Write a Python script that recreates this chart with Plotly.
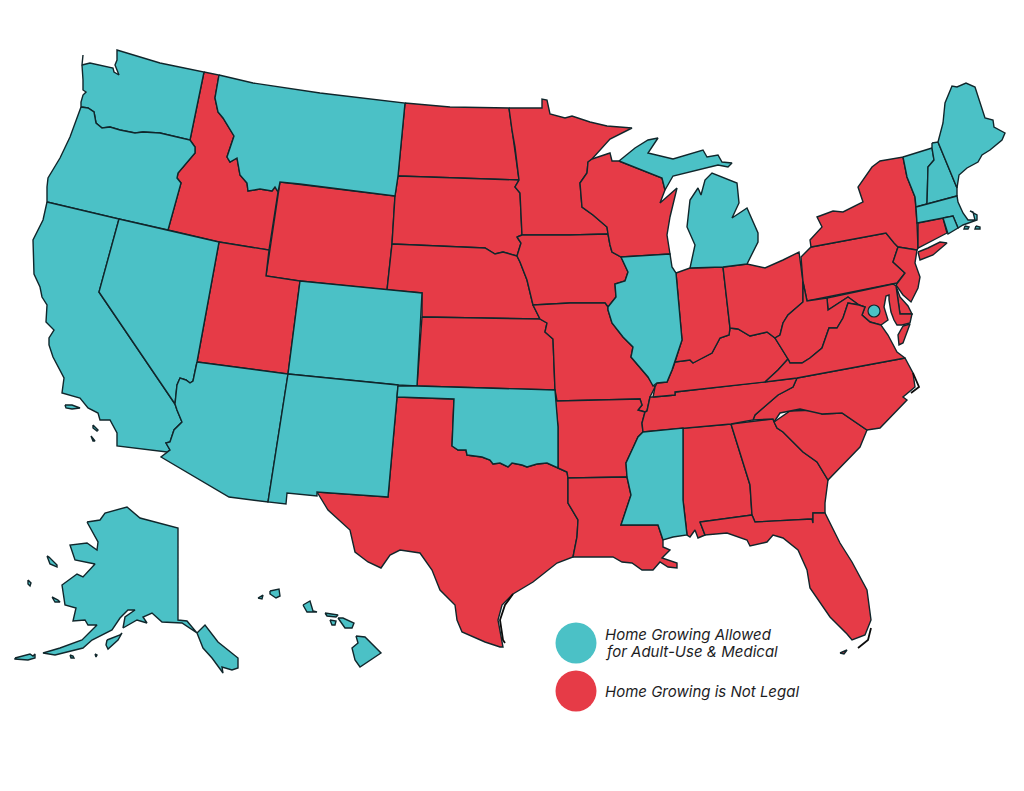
import plotly.graph_objects as go

# State outlines (picture pixels, x then y)
WA = [(83,55),(82,65),(90,63),(100,65),(113,68),(114,72),(119,75),(115,65),(117,60),(117,50),(160,63),(204,72),(190,140),(177,137),(160,133),(143,132),(135,133),(120,130),(110,127),(102,128),(96,123),(94,112),(88,108),(81,107),(81,102),(83,95),(86,92),(83,90),(83,80),(82,65)]
OR = [(81,107),(88,108),(94,112),(96,123),(102,128),(110,127),(120,130),(135,133),(143,132),(160,133),(177,137),(190,140),(195,147),(195,153),(178,173),(177,178),(181,183),(168,230),(119,219),(47,202),(47,187),(48,178),(60,158),(70,137)]
CA = [(47,202),(119,219),(99,292),(175,404),(177,410),(182,422),(174,430),(170,442),(166,443),(170,450),(167,452),(117,446),(117,433),(110,420),(100,420),(98,413),(88,408),(80,398),(62,393),(64,378),(53,357),(49,345),(49,338),(54,330),(46,322),(47,305),(42,297),(40,287),(34,274),(33,240),(43,220)]
NV = [(119,219),(168,230),(219,242),(197,362),(193,381),(190,383),(186,380),(180,378),(177,385),(175,404),(99,292)]
ID = [(204,72),(219,75),(215,98),(218,112),(223,118),(234,136),(227,157),(230,162),(237,158),(240,175),(247,183),(248,191),(260,189),(272,191),(275,187),(278,192),(269,250),(219,242),(168,230),(181,183),(177,178),(178,173),(195,153),(195,147),(190,140)]
MT = [(219,75),(253,83),(320,93),(405,103),(398,176),(395,196),(300,184),(280,182),(278,192),(275,187),(272,191),(260,189),(248,191),(247,183),(240,175),(237,158),(230,162),(227,157),(234,136),(223,118),(218,112),(215,98)]
WY = [(280,182),(395,196),(392,244),(387,290),(300,281),(266,276)]
UT = [(219,242),(269,250),(266,276),(300,281),(288,374),(197,362)]
CO = [(300,281),(387,290),(422,293),(417,386),(398,385),(288,374)]
AZ = [(197,362),(288,374),(268,502),(229,497),(161,457),(167,452),(170,450),(166,443),(170,442),(174,430),(182,422),(177,410),(175,404),(177,385),(180,378),(186,380),(190,383),(193,381)]
NM = [(288,374),(398,385),(397,397),(388,497),(317,492),(317,496),(287,493),(286,504),(268,502)]
ND = [(405,103),(450,107),(509,108),(512,130),(515,147),(519,180),(398,176)]
SD = [(398,176),(519,180),(515,187),(520,193),(522,235),(517,237),(521,243),(517,256),(503,252),(495,254),(485,248),(392,244),(395,196)]
NE = [(392,244),(485,248),(495,254),(503,252),(517,256),(520,262),(527,280),(533,305),(540,319),(422,317),(422,293),(387,290)]
KS = [(422,317),(540,319),(547,323),(545,332),(553,339),(555,390),(417,386)]
OK = [(398,386),(417,386),(555,390),(558,427),(558,468),(547,463),(537,464),(527,467),(522,465),(512,463),(508,467),(500,463),(493,464),(490,460),(482,457),(467,455),(466,450),(458,450),(452,446),(454,399),(397,397)]
TX = [(397,397),(454,399),(452,446),(458,450),(466,450),(467,455),(482,457),(490,460),(493,464),(500,463),(508,467),(512,463),(522,465),(527,467),(537,464),(547,463),(558,468),(567,472),(568,478),(568,503),(578,520),(577,537),(573,557),(557,563),(533,582),(513,594),(502,605),(498,620),(503,647),(500,647),(485,642),(462,632),(457,620),(455,605),(440,590),(432,570),(420,553),(400,550),(390,555),(381,568),(368,562),(355,552),(350,530),(328,510),(317,492),(388,497)]
MN = [(509,108),(542,108),(542,99),(547,100),(550,114),(565,118),(572,116),(590,122),(607,126),(632,128),(610,139),(592,159),(588,162),(587,173),(580,183),(582,207),(593,215),(607,227),(608,234),(570,235),(522,235),(520,193),(515,187),(519,180),(515,147),(512,130)]
IA = [(517,237),(522,235),(570,235),(608,234),(610,245),(612,252),(621,257),(628,272),(625,281),(615,284),(616,297),(608,307),(605,303),(570,303),(533,305),(527,280),(520,262),(517,256),(521,243)]
MO = [(533,305),(570,303),(605,303),(608,307),(608,310),(612,323),(623,337),(633,347),(631,357),(648,377),(655,387),(650,397),(647,411),(645,412),(638,410),(642,405),(640,399),(557,401),(555,390),(553,339),(545,332),(547,323),(540,319)]
AR = [(557,401),(640,399),(642,405),(638,410),(645,412),(642,423),(643,432),(638,437),(633,448),(626,463),(627,477),(568,478),(567,472),(558,468),(558,427),(555,400)]
LA = [(568,478),(627,477),(631,495),(621,525),(658,525),(663,540),(663,547),(670,550),(662,558),(677,563),(677,568),(668,567),(660,562),(653,570),(642,570),(632,563),(622,562),(613,557),(593,557),(573,557),(577,537),(578,520),(568,503)]
MS = [(643,432),(683,428),(683,500),(687,535),(673,537),(663,540),(658,525),(621,525),(631,495),(627,477),(626,463),(633,448),(638,437)]
AL = [(683,428),(731,424),(750,485),(752,515),(700,522),(705,535),(698,538),(695,530),(690,537),(687,535),(683,500)]
GA = [(731,424),(773,419),(777,428),(783,432),(803,452),(817,462),(828,480),(825,503),(825,513),(813,513),(813,523),(812,519),(755,522),(752,515),(750,485)]
FL = [(700,522),(752,515),(755,522),(812,519),(813,523),(813,513),(825,513),(840,543),(852,562),(867,590),(871,620),(865,635),(852,640),(847,634),(830,617),(823,607),(810,588),(807,570),(798,550),(783,538),(773,535),(767,542),(750,546),(747,540),(727,533),(705,535)]
SC = [(774,422),(790,411),(818,410),(822,414),(842,413),(867,430),(860,447),(837,470),(828,480),(817,462),(803,452),(783,432),(777,428)]
NC = [(797,378),(905,358),(913,373),(915,387),(903,397),(907,400),(880,428),(867,430),(842,413),(822,414),(800,409),(780,413),(774,422),(773,419),(753,420),(755,415),(778,395),(793,387)]
TN = [(653,397),(675,395),(675,392),(757,383),(765,382),(797,378),(793,387),(778,395),(755,415),(753,420),(731,424),(683,428),(643,432),(642,423),(645,412),(647,411),(650,397)]
KY = [(653,397),(675,395),(675,392),(757,383),(765,382),(778,370),(788,359),(775,338),(767,332),(750,336),(738,329),(730,328),(729,335),(720,338),(712,353),(702,358),(693,363),(690,360),(675,362),(673,368),(667,382),(657,383),(655,387)]
IL = [(621,257),(670,254),(672,267),(676,273),(682,340),(675,362),(672,370),(667,382),(657,383),(653,386),(648,377),(631,357),(633,347),(623,337),(612,323),(608,310),(608,307),(616,297),(615,284),(625,281),(628,272)]
IN = [(676,273),(690,268),(723,267),(730,328),(729,335),(720,338),(712,353),(702,358),(693,363),(690,360),(675,362),(682,340)]
OH = [(723,267),(747,264),(765,268),(783,260),(799,252),(803,282),(803,302),(788,315),(783,323),(780,335),(775,338),(767,332),(750,336),(738,329),(730,328)]
MI_LOWER = [(690,268),(695,245),(687,227),(690,200),(698,188),(701,195),(705,180),(712,173),(737,183),(739,203),(732,218),(747,208),(758,233),(758,242),(747,264),(723,267)]
MI_UPPER = [(619,161),(635,148),(648,140),(658,138),(648,153),(673,159),(703,150),(707,157),(718,155),(722,162),(732,163),(728,167),(718,165),(687,173),(673,176),(665,190),(662,178)]
WI = [(592,159),(610,153),(612,161),(619,161),(662,178),(665,190),(660,203),(677,188),(670,217),(667,235),(670,254),(621,257),(612,252),(610,245),(608,234),(607,227),(593,215),(582,207),(580,183),(587,173),(588,162)]
PA = [(807,301),(803,282),(801,257),(811,247),(886,233),(894,243),(898,247),(893,262),(905,273),(897,283)]
NY = [(811,247),(810,240),(822,227),(817,217),(833,211),(843,212),(863,202),(858,187),(872,167),(880,161),(903,157),(907,177),(915,197),(917,223),(918,248),(917,250),(898,247),(894,243),(886,233)]
LONG_ISLAND = [(918,252),(928,248),(940,242),(947,243),(933,255),(920,260)]
NJ = [(898,247),(917,250),(915,263),(920,277),(918,288),(911,302),(903,295),(896,285),(905,273),(893,262)]
DE = [(896,286),(900,297),(908,306),(912,314),(900,314)]
MD = [(827,298),(893,284),(896,286),(900,314),(912,314),(910,323),(902,325),(897,325),(894,320),(891,312),(889,300),(889,295),(886,296),(884,307),(888,320),(881,325),(870,322),(862,315),(865,307),(859,305),(848,297),(828,310)]
WV = [(803,282),(807,301),(827,298),(828,310),(848,297),(859,305),(848,303),(843,318),(837,328),(829,328),(822,348),(810,358),(802,363),(790,363),(788,359),(775,338),(780,335),(783,323),(788,315),(803,302)]
VA = [(788,359),(790,363),(802,363),(810,358),(822,348),(829,328),(837,328),(843,318),(848,303),(859,305),(865,307),(862,315),(870,322),(881,325),(888,335),(897,352),(905,358),(797,378),(765,382),(778,370)]
VA_SHORE = [(903,326),(910,324),(903,343),(899,345),(898,335)]
CT = [(918,223),(943,218),(947,233),(918,248)]
RI = [(943,218),(953,216),(958,228),(948,234)]
MA = [(916,207),(927,204),(957,196),(958,202),(963,213),(968,220),(975,220),(973,212),(970,211),(977,215),(977,220),(963,225),(958,228),(953,216),(917,223)]
VT = [(903,157),(932,148),(934,160),(928,167),(927,204),(916,207),(915,197),(907,177)]
NH = [(932,143),(938,142),(957,188),(957,196),(927,204),(928,167),(934,160),(932,148)]
ME = [(938,142),(943,123),(945,103),(952,86),(957,87),(966,83),(975,87),(985,118),(993,120),(994,127),(1005,133),(1002,140),(990,150),(982,155),(978,162),(967,168),(959,175),(957,188)]
AK = [(87,522),(100,520),(105,513),(127,507),(140,518),(165,525),(178,528),(178,620),(187,621),(197,633),(205,625),(218,642),(238,658),(238,668),(232,670),(222,667),(223,673),(212,658),(203,648),(197,633),(182,623),(162,622),(152,613),(143,617),(147,623),(137,620),(123,628),(125,617),(135,610),(128,610),(120,618),(112,630),(92,640),(83,648),(55,655),(43,653),(60,648),(82,640),(97,625),(88,625),(85,620),(73,621),(76,608),(65,605),(62,585),(77,574),(83,577),(95,564),(75,560),(70,545),(87,543),(97,550),(98,542)]
AK_A = [(47,556),(49,557),(57,565),(57,567),(50,564)]
AK_B = [(28,580),(31,583),(30,586),(28,584)]
AK_C = [(52,597),(58,600),(60,602),(55,602)]
AK_D = [(107,640),(120,635),(122,633),(118,640),(108,649),(106,645)]
AK_E = [(15,658),(30,654),(33,656),(35,654),(35,658),(28,660),(15,659)]
AK_F = [(70,655),(73,656),(74,658),(71,658)]
AK_G = [(95,654),(97,655),(96,657)]
HI_A = [(270,591),(279,589),(280,596),(276,598),(270,594)]
HI_B = [(258,598),(263,595),(262,599)]
HI_C = [(303,605),(310,601),(313,611),(317,612),(307,612)]
HI_D = [(325,613),(338,615),(336,617),(327,616)]
HI_E = [(330,620),(336,621),(335,625),(332,625)]
HI_F = [(338,618),(343,618),(354,623),(352,628),(345,628)]
HI_G = [(356,636),(365,637),(381,653),(370,660),(360,667),(355,660),(352,648),(358,643)]
CA_A = [(65,405),(72,405),(80,408),(72,409),(66,408)]
CA_B = [(93,425),(98,430),(97,431),(93,428)]
CA_C = [(91,436),(95,441),(93,441)]
MA_A = [(965,226),(969,227),(968,229),(964,229)]
MA_B = [(976,226),(980,227),(980,229),(975,229)]
FL_KEY = [(840,653),(847,650),(844,654)]

# Thin barrier islands drawn as plain lines
PADRE = [(513,594),(505,605),(500,620),(503,640),(505,643)]
OUTER_BANKS = [(913,373),(919,387),(911,393)]
FL_KEYS_LINE = [(871,628),(868,640),(858,648)]

allowed_shapes = [WA,OR,CA,NV,MT,CO,AZ,NM,OK,IL,MS,MI_LOWER,MI_UPPER,VT,NH,ME,MA,RI,AK,AK_A,AK_B,AK_C,AK_D,AK_E,AK_F,AK_G,
                  HI_A,HI_B,HI_C,HI_D,HI_E,HI_F,HI_G,CA_A,CA_B,CA_C,MA_A,MA_B]
illegal_shapes = [ID,WY,UT,ND,SD,NE,KS,TX,MN,IA,MO,AR,LA,AL,GA,FL,SC,NC,TN,KY,IN,OH,WI,PA,NY,LONG_ISLAND,NJ,DE,MD,WV,VA,VA_SHORE,CT,FL_KEY]
thin_lines = [PADRE,OUTER_BANKS,FL_KEYS_LINE]

legend_lines = ["Home Growing Allowed", "for Adult-Use & Medical", "Home Growing is Not Legal"]
legend_line_y = [634, 651, 691]
legend_x = [576, 576]
legend_y = [643, 691]
dc_x = [874]
dc_y = [311]

TEAL = "#4BC1C6"
RED = "#E63B47"
INK = "#10262B"

fig = go.Figure()
for shapes, colour in ((illegal_shapes, RED), (allowed_shapes, TEAL)):
    for s in shapes:
        xs = [p[0] for p in s] + [s[0][0]]
        ys = [p[1] for p in s] + [s[0][1]]
        fig.add_trace(go.Scatter(x=xs, y=ys, mode="lines", fill="toself", fillcolor=colour,
                                 line=dict(color=INK, width=1.4), hoverinfo="skip", showlegend=False))
for s in thin_lines:
    fig.add_trace(go.Scatter(x=[p[0] for p in s], y=[p[1] for p in s], mode="lines",
                             line=dict(color="#0C0C0C", width=1.8), hoverinfo="skip", showlegend=False))
fig.add_trace(go.Scatter(x=dc_x, y=dc_y, mode="markers",
                         marker=dict(size=12, color=TEAL, line=dict(color=INK, width=1.2)),
                         hoverinfo="skip", showlegend=False))
fig.add_trace(go.Scatter(x=legend_x, y=legend_y, mode="markers",
                         marker=dict(size=41, color=[TEAL, RED], line=dict(width=0)),
                         hoverinfo="skip", showlegend=False))
for label, ly in zip(legend_lines, legend_line_y):
    fig.add_annotation(x=603, y=ly, text=label, xanchor="left", yanchor="middle", align="left", showarrow=False,
                       font=dict(family="Inter", size=15, color="#1d1d1f", style="italic"))

# The page keeps an 8px body margin, so the plot area starts 8px in and the range starts at 8 too
fig.update_layout(width=1008, height=775, margin=dict(l=0, r=0, t=0, b=0),
                  paper_bgcolor="white", plot_bgcolor="white",
                  xaxis=dict(range=[8, 1016], visible=False, fixedrange=True),
                  yaxis=dict(range=[783, 8], visible=False, fixedrange=True))
fig.write_html("out.html", config=dict(displayModeBar=False))
